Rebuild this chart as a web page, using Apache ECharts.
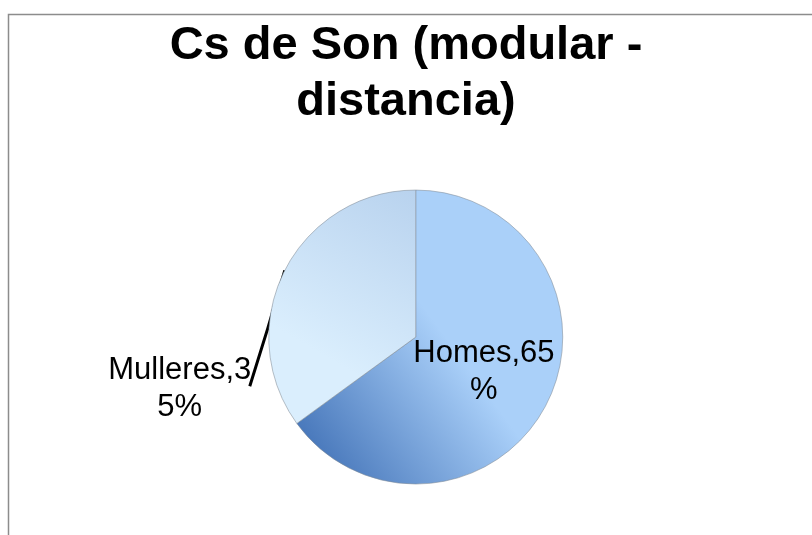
<!DOCTYPE html>
<html>
<head>
<meta charset="utf-8">
<script src="https://cdn.jsdelivr.net/npm/echarts@6/dist/echarts.min.js"></script>
<style>
	html, body { margin: 0; padding: 0; background: #fff; }
	#chart { width: 812px; height: 535px; }
</style>
</head>
<body>
<div id="chart"></div>
<script>
// Chart data
const titleText = 'Cs de Son (modular -\ndistancia)'
const categories = ['Homes', 'Mulleres']
const values = [65, 35]

const sliceColors = [
	new echarts.graphic.LinearGradient(0, 0.95, 0.6, 0.55, [
		{ offset: 0, color: '#3a6bb2' },
		{ offset: 1, color: '#aad0f9' }
	]),
	new echarts.graphic.LinearGradient(1, 0, 0.35, 0.7, [
		{ offset: 0, color: '#b8d2ee' },
		{ offset: 1, color: '#daeefd' }
	])
]

const chart = echarts.init(document.getElementById('chart'))

const option = {
	animation: false,
	backgroundColor: '#fff',
	title: {
		text: titleText,
		left: 'center',
		top: 13,
		textStyle: {
			fontFamily: 'Liberation Sans',
			fontSize: 47,
			fontWeight: 'bold',
			lineHeight: 56,
			color: '#000'
		}
	},
	// chart frame (only top and left edges are visible)
	graphic: [{
		type: 'rect',
		shape: { x: 8.5, y: 14.5, width: 900, height: 600 },
		style: { fill: 'none', stroke: '#8c8c8c', lineWidth: 1.5 },
		silent: true
	}],
	series: [{
		type: 'pie',
		center: ['51.2%', '63%'],
		radius: 147,
		startAngle: 90,
		clockwise: true,
		itemStyle: {
			borderColor: 'rgba(130,140,150,0.7)',
			borderWidth: 0.8
		},
		label: {
			fontFamily: 'Liberation Sans',
			fontSize: 31,
			lineHeight: 37,
			color: '#000',
			width: 150,
			overflow: 'breakAll',
			align: 'center',
			formatter: p => p.name + ',' + p.value + '%'
		},
		labelLine: {
			showAbove: true,
			lineStyle: { color: '#000', width: 3, opacity: 1 }
		},
		labelLayout: function (params) {
			if (params.dataIndex !== 1 || !params.labelLinePoints) return {}
			const s = params.labelLinePoints[0]
			return {
				x: s[0] - 105,
				y: s[1] + 119,
				align: 'center',
				verticalAlign: 'middle',
				labelLinePoints: [s, [s[0] - 17, s[1] + 58], [s[0] - 35, s[1] + 116]]
			}
		},
		data: categories.map((name, i) => ({
			name: name,
			value: values[i],
			itemStyle: { color: sliceColors[i] },
			label: { position: i === 0 ? 'inside' : 'outside' },
			labelLine: { show: i === 1 }
		}))
	}]
}

chart.setOption(option)
</script>
</body>
</html>
